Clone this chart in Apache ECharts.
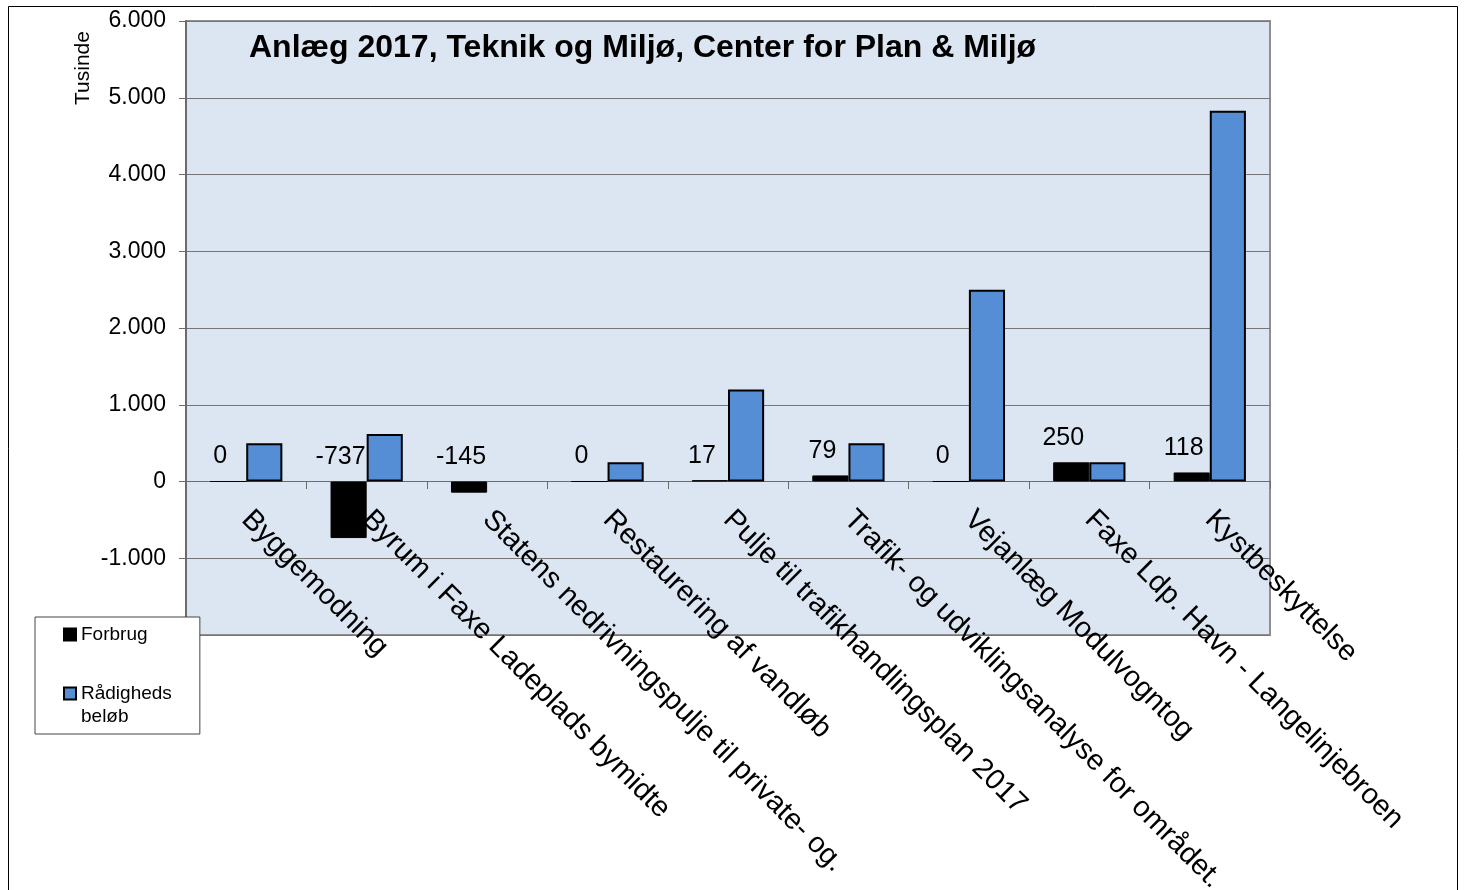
<!DOCTYPE html>
<html>
<head>
<meta charset="utf-8">
<script src="https://cdn.jsdelivr.net/npm/echarts@6/dist/echarts.min.js"></script>
<style>
html,body{margin:0;padding:0;background:#fff;}
#chart{width:1464px;height:890px;}
</style>
</head>
<body>
<div id="chart"></div>
<script>
const categories = [
  'Byggemodning',
  'Byrum i Faxe Ladeplads bymidte',
  'Statens nedrivningspulje til private- og.',
  'Restaurering af vandløb',
  'Pulje til trafikhandlingsplan 2017',
  'Trafik- og udviklingsanalyse for området.',
  'Vejanlæg Modulvogntog',
  'Faxe Ldp. Havn - Langelinjebroen',
  'Kystbeskyttelse'
];
const forbrug = [0, -737, -145, 0, 17, 79, 0, 250, 118];
const raadighed = [500, 620, null, 250, 1200, 500, 2500, 250, 4830];
const yMin = -2000, yMax = 6000, yInterval = 1000;
const titleText = 'Anlæg 2017, Teknik og Miljø, Center for Plan & Miljø';
const yName = 'Tusinde';
const seriesNames = ['Forbrug', 'Rådigheds beløb'];

const FONT = '"Liberation Sans", Arial, sans-serif';
function fmt(v){
  const s = Math.abs(v).toString().replace(/\B(?=(\d{3})+(?!\d))/g, '.');
  return (v < 0 ? '-' : '') + s;
}

const GRID_TOP = 21, GRID_BOTTOM = 255, H = 890;
const plotH = H - GRID_TOP - GRID_BOTTOM;
// offset that puts the category axis on the zero value line
const zeroOffset = -Math.round(plotH * (0 - yMin) / (yMax - yMin));

const chart = echarts.init(document.getElementById('chart'));
chart.setOption({
  animation: false,
  backgroundColor: '#fff',
  title: {
    text: titleText,
    left: 244, top: 27,
    textStyle: {fontFamily: FONT, fontSize: 32, fontWeight: 'bold', color: '#000'}
  },
  legend: {
    orient: 'vertical',
    left: 35, top: 617,
    padding: [6, 28, 6, 28],
    itemGap: 13,
    itemWidth: 12, itemHeight: 12,
    backgroundColor: '#fff',
    borderColor: '#444', borderWidth: 1,
    textStyle: {fontFamily: FONT, fontSize: 19, color: '#000', lineHeight: 23},
    formatter: function(n){ return n === seriesNames[1] ? ' \nRådigheds\nbeløb' : n; },
    data: [
      {name: seriesNames[0], icon: 'rect'},
      {name: seriesNames[1], icon: 'rect'}
    ]
  },
  grid: {
    left: 186, right: 194, top: GRID_TOP, bottom: GRID_BOTTOM,
    outerBoundsMode: 'none', containLabel: false,
    show: true, backgroundColor: '#DCE6F2',
    borderColor: '#8f8f8f', borderWidth: 2
  },
  xAxis: {
    type: 'category',
    data: categories,
    position: 'bottom',
    offset: zeroOffset,
    axisLine: {onZero: false, lineStyle: {color: '#6b6b6b', width: 1}},
    axisTick: {show: true, length: 8, lineStyle: {color: '#6b6b6b'}},
    axisLabel: {
      interval: 0, rotate: -45, margin: 34,
      fontFamily: FONT, fontSize: 29, color: '#000'
    },
    splitLine: {show: false}
  },
  yAxis: {
    type: 'value',
    min: yMin, max: yMax, interval: yInterval,
    axisLine: {show: true, lineStyle: {color: '#6b6b6b', width: 2}},
    axisTick: {show: true, length: 7, lineStyle: {color: '#6b6b6b'}},
    axisLabel: {
      margin: 20, fontFamily: FONT, fontSize: 23, color: '#000',
      formatter: function(v){ return v === yMin ? '' : fmt(v); }
    },
    splitLine: {show: true, lineStyle: {color: '#767676', width: 1}}
  },
  series: [
    {
      name: seriesNames[0], type: 'bar', data: forbrug,
      barGap: '0%', barCategoryGap: '40%',
      itemStyle: {color: '#000', borderColor: '#000', borderWidth: 1},
      label: {
        show: true, position: 'top', distance: 12, offset: [-8, 0],
        fontFamily: FONT, fontSize: 25, color: '#000',
        formatter: function(p){ return fmt(p.value); }
      }
    },
    {
      name: seriesNames[1], type: 'bar', data: raadighed,
      barGap: '0%', barCategoryGap: '40%',
      itemStyle: {color: '#558ED5', borderColor: '#000', borderWidth: 2}
    }
  ],
  graphic: [
    {
      type: 'rect', z: -10, silent: true,
      shape: {x: 8.5, y: 6.5, width: 1449, height: 1000},
      style: {fill: 'none', stroke: '#000', lineWidth: 1}
    },
    {
      type: 'text', x: 83, y: 68, rotation: Math.PI / 2,
      style: {text: yName, fontFamily: FONT, fontSize: 21, fill: '#000', align: 'center', verticalAlign: 'middle'}
    }
  ]
});
</script>
</body>
</html>
